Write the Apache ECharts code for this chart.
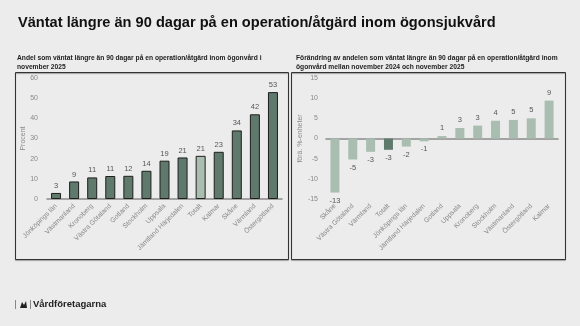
<!DOCTYPE html>
<html>
<head>
<meta charset="utf-8">
<script src="https://cdn.jsdelivr.net/npm/echarts@6/dist/echarts.min.js"></script>
<style>
  html, body { margin: 0; padding: 0; background: #ececec; }
  #chart { width: 580px; height: 326px; }
</style>
</head>
<body>
<div id="chart"></div>
<script>
// Andel som väntat > 90 dagar, november 2025 (procent)
const shareRegions = ['Jönköpings län', 'Västmanland', 'Kronoberg', 'Västra Götaland', 'Gotland', 'Stockholm', 'Uppsala', 'Jämtland Härjedalen', 'Totalt', 'Kalmar', 'Skåne', 'Värmland', 'Östergötland'];
const shareValues = [3, 8.7, 10.7, 11.4, 11.5, 14, 19, 20.6, 21.4, 23.4, 34, 42, 53];

// Förändring nov 2024 – nov 2025 (procentenheter)
const changeRegions = ['Skåne', 'Västra Götaland', 'Värmland', 'Totalt', 'Jönköpings län', 'Jämtland Härjedalen', 'Gotland', 'Uppsala', 'Kronoberg', 'Stockholm', 'Västmanland', 'Östergötland', 'Kalmar'];
const changeValues = [-13.4, -5.2, -3.3, -2.8, -2.0, -0.7, 0.6, 2.6, 3.2, 4.4, 4.6, 5.0, 9.4];

const shareTicks = [0, 10, 20, 30, 40, 50, 60];
const changeTicks = [-15, -10, -5, 0, 5, 10, 15];

const DARK = '#5f7a6c';
const LIGHT = '#a9bdb0';
const TOTAL = 'Totalt';

const labelFont = 'Liberation Sans, Arial, sans-serif';

const chart = echarts.init(document.getElementById('chart'), null, { renderer: 'canvas' });

const axisLabelStyle = { color: '#8a8a8a', fontSize: 7, fontFamily: labelFont };

chart.setOption({
  backgroundColor: '#ececec',
  animation: false,
  textStyle: { fontFamily: labelFont },
  graphic: [
    { type: 'text', left: 18, top: 15,
      style: { text: 'Väntat längre än 90 dagar på en operation/åtgärd inom ögonsjukvård',
               font: 'bold 14.6px ' + labelFont, fill: '#111' } },
    { type: 'text', left: 17, top: 54,
      style: { text: 'Andel som väntat längre än 90 dagar på en operation/åtgärd inom ögonvård i\nnovember 2025',
               font: 'bold 6.7px ' + labelFont, fill: '#222', lineHeight: 8.5 } },
    { type: 'text', left: 296, top: 54,
      style: { text: 'Förändring av andelen som väntat längre än 90 dagar på en operation/åtgärd inom\nögonvård mellan november 2024 och november 2025',
               font: 'bold 6.7px ' + labelFont, fill: '#222', lineHeight: 8.5 } },
    { type: 'rect', shape: { x: 15.5, y: 72.5, width: 273, height: 187 },
      style: { fill: 'none', stroke: '#333', lineWidth: 1,
               shadowColor: 'rgba(0,0,0,0.35)', shadowBlur: 1, shadowOffsetY: 1 } },
    { type: 'rect', shape: { x: 291.5, y: 72.5, width: 274, height: 187 },
      style: { fill: 'none', stroke: '#333', lineWidth: 1,
               shadowColor: 'rgba(0,0,0,0.35)', shadowBlur: 1, shadowOffsetY: 1 } },
    // footer
    { type: 'line', shape: { x1: 15.5, y1: 300, x2: 15.5, y2: 309 }, style: { stroke: '#888', lineWidth: 1 } },
    { type: 'polygon', shape: { points: [[20, 308], [22, 302], [24, 305], [26, 301], [27, 308]] },
      style: { fill: '#222' } },
    { type: 'line', shape: { x1: 30.5, y1: 300, x2: 30.5, y2: 309 }, style: { stroke: '#888', lineWidth: 1 } },
    { type: 'text', left: 33, top: 299.5,
      style: { text: 'Vårdföretagarna', font: 'bold 9.5px ' + labelFont, fill: '#222' } }
  ],
  grid: [
    { left: 47, top: 78, width: 235, height: 121, containLabel: false },
    { left: 326, top: 78, width: 232, height: 121, containLabel: false }
  ],
  xAxis: [
    { type: 'category', gridIndex: 0, data: shareRegions,
      axisLine: { lineStyle: { color: '#8a8a8a', width: 1.5 } },
      axisTick: { show: false },
      axisLabel: { ...axisLabelStyle, fontSize: 6.8, rotate: 45, interval: 0, margin: 6 } },
    { type: 'category', gridIndex: 1, data: changeRegions,
      axisLine: { onZero: true, lineStyle: { color: '#8a8a8a', width: 1.5 } },
      axisTick: { show: false },
      axisLabel: { ...axisLabelStyle, fontSize: 6.8, rotate: 45, interval: 0, margin: 6 },
      position: 'bottom' }
  ],
  yAxis: [
    { type: 'value', gridIndex: 0, min: shareTicks[0], max: shareTicks[shareTicks.length - 1], interval: 10,
      name: 'Procent', nameLocation: 'middle', nameGap: 18, nameRotate: 90,
      nameTextStyle: { color: '#8a8a8a', fontSize: 7, fontFamily: labelFont },
      splitLine: { show: false }, axisLine: { show: false }, axisTick: { show: false },
      axisLabel: { ...axisLabelStyle, margin: 9 } },
    { type: 'value', gridIndex: 1, min: changeTicks[0], max: changeTicks[changeTicks.length - 1], interval: 5,
      name: 'förä. %-enheter', nameLocation: 'middle', nameGap: 19, nameRotate: 90,
      nameTextStyle: { color: '#8a8a8a', fontSize: 7, fontFamily: labelFont },
      splitLine: { show: false }, axisLine: { show: false }, axisTick: { show: false },
      axisLabel: { ...axisLabelStyle, margin: 8 } }
  ],
  series: [
    { type: 'bar', xAxisIndex: 0, yAxisIndex: 0, barWidth: 10,
      data: shareValues.map((v, i) => ({
        value: v,
        itemStyle: { color: shareRegions[i] === TOTAL ? LIGHT : DARK, borderColor: '#1e1e1e', borderWidth: 1 }
      })),
      label: { show: true, position: 'top', distance: 3, color: '#555', fontSize: 7.5,
               formatter: p => String(Math.round(p.value)) } },
    { type: 'bar', xAxisIndex: 1, yAxisIndex: 1, barWidth: 9,
      data: changeValues.map((v, i) => ({
        value: v,
        itemStyle: { color: changeRegions[i] === TOTAL ? DARK : LIGHT },
        label: { position: v < 0 ? 'bottom' : 'top' }
      })),
      label: { show: true, distance: 4, color: '#555', fontSize: 7.5,
               formatter: p => String(Math.round(p.value)) } }
  ]
});
</script>
</body>
</html>
